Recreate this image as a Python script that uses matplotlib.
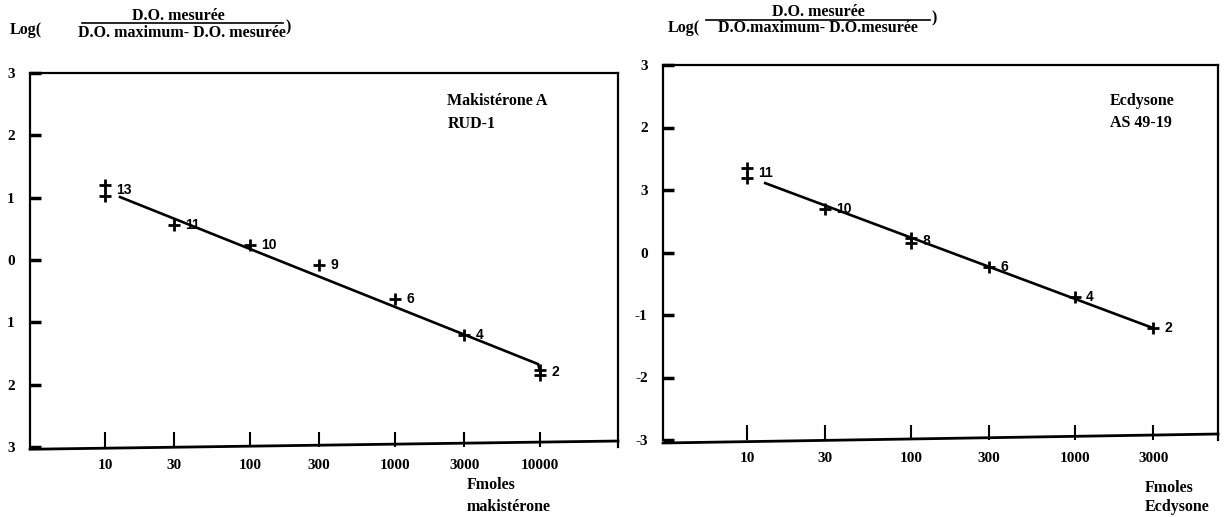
import matplotlib
matplotlib.use("Agg")
import matplotlib.pyplot as plt
from matplotlib.lines import Line2D

# ---------------- data ----------------
left_x = [10, 10, 30, 100, 300, 1000, 3000, 10000, 10000]
left_y = [1.20, 1.03, 0.56, 0.24, -0.08, -0.63, -1.20, -1.76, -1.85]
left_fit_x = [12.7, 9700, 10000]
left_fit_y = [1.01, -1.67, -1.77]
left_lbl_x = [10, 30, 100, 300, 1000, 3000, 10000]
left_lbl_y = [1.12, 0.56, 0.24, -0.08, -0.63, -1.20, -1.80]
left_lbl = ["13", "11", "10", "9", "6", "4", "2"]
left_xticks = [10, 30, 100, 300, 1000, 3000, 10000]
left_xticklabels = ["10", "30", "100", "300", "1000", "3000", "10000"]
left_yticks = [3, 2, 1, 0, -1, -2, -3]
left_yticklabels = ["3", "2", "1", "0", "1", "2", "3"]

right_x = [10, 10, 30, 100, 100, 300, 1000, 3000]
right_y = [1.35, 1.19, 0.70, 0.23, 0.15, -0.23, -0.71, -1.21]
right_fit_x = [12.9, 3000]
right_fit_y = [1.11, -1.21]
right_lbl_x = [10, 30, 100, 300, 1000, 3000]
right_lbl_y = [1.27, 0.70, 0.19, -0.23, -0.71, -1.21]
right_lbl = ["11", "10", "8", "6", "4", "2"]
right_xticks = [10, 30, 100, 300, 1000, 3000]
right_xticklabels = ["10", "30", "100", "300", "1000", "3000"]
right_yticks = [3, 2, 1, 0, -1, -2, -3]
right_yticklabels = ["3", "2", "3", "0", "-1", "-2", "-3"]

W, H = 1227, 517
SERIF = "Liberation Serif"

fig = plt.figure(figsize=(W / 100, H / 100), dpi=100)
fig.patch.set_facecolor("white")


def frac(x, y):
    return x / W, 1 - y / H


def make_axes(l, t, r, b):
    return fig.add_axes([l / W, 1 - b / H, (r - l) / W, (b - t) / H])


def style(ax, xlim, xticks, xtl, yticks, ytl, slant):
    ax.set_xscale("log")
    ax.set_xlim(*xlim)
    ax.set_ylim(-3, 3)
    ax.set_xticks(xticks)
    ax.set_xticklabels(xtl)
    ax.xaxis.set_minor_locator(matplotlib.ticker.NullLocator())
    ax.set_yticks(yticks)
    ax.set_yticklabels(ytl)
    ax.tick_params(axis="x", direction="in", length=11, width=1.5, pad=8.5,
                   labelsize=11)
    ax.tick_params(axis="y", direction="in", length=8, width=2.5, pad=11,
                   labelsize=11)
    for lab in ax.get_xticklabels() + ax.get_yticklabels():
        lab.set_fontfamily(SERIF)
        lab.set_fontweight("bold")
    for s in ax.spines.values():
        s.set_linewidth(1.6)
    ax.spines["bottom"].set_visible(False)
    ax.add_line(Line2D([0, 1], slant, transform=ax.transAxes, color="black",
                       lw=2.0, clip_on=False))


# ---------------- left panel ----------------
axL = make_axes(30, 73, 618, 447)
style(axL, (3.04, 34500), left_xticks, left_xticklabels, left_yticks,
      left_yticklabels, [-0.006, 0.016])
axL.plot(left_fit_x, left_fit_y, color="black", lw=1.9)
axL.plot(left_x, left_y, linestyle="none", marker="+", ms=9, mew=2.0,
         color="black")
for x, y, t in zip(left_lbl_x, left_lbl_y, left_lbl):
    axL.annotate(t, (x, y), xytext=(8, 0), textcoords="offset points",
                 ha="left", va="center", fontsize=10, fontweight="bold",
                 family="Liberation Sans")
axL.text(0.71, 0.895, "Makistérone A\nRUD-1", transform=axL.transAxes,
         ha="left", va="center", family=SERIF, fontweight="bold",
         fontsize=11.5, linespacing=1.55)

# ---------------- right panel ----------------
axR = make_axes(663, 65, 1218, 440)
style(axR, (3.07, 7450), right_xticks, right_xticklabels, right_yticks,
      right_yticklabels, [-0.008, 0.016])
axR.plot(right_fit_x, right_fit_y, color="black", lw=1.9)
axR.plot(right_x, right_y, linestyle="none", marker="+", ms=9, mew=2.0,
         color="black")
for x, y, t in zip(right_lbl_x, right_lbl_y, right_lbl):
    axR.annotate(t, (x, y), xytext=(8, 0), textcoords="offset points",
                 ha="left", va="center", fontsize=10, fontweight="bold",
                 family="Liberation Sans")
axR.text(0.805, 0.875, "Ecdysone\nAS 49-19", transform=axR.transAxes,
         ha="left", va="center", family=SERIF, fontweight="bold",
         fontsize=11.5, linespacing=1.55)

# ---------------- y-axis titles (fractions) ----------------
tk = dict(family=SERIF, fontweight="bold", fontsize=11.5)

fig.text(*frac(10, 30), "Log(", ha="left", va="center", **tk)
fig.text(*frac(178, 16), "D.O. mesurée", ha="center", va="center", **tk)
fig.add_artist(Line2D([82 / W, 283 / W], [1 - 23 / H, 1 - 23 / H],
                      color="black", lw=1.2))
fig.text(*frac(182, 33), "D.O. maximum- D.O. mesurée", ha="center",
         va="center", **tk)
fig.text(*frac(286, 27), ")", ha="left", va="center", **tk)

fig.text(*frac(668, 28), "Log(", ha="left", va="center", **tk)
fig.text(*frac(818, 12), "D.O. mesurée", ha="center", va="center", **tk)
fig.add_artist(Line2D([706 / W, 930 / W], [1 - 20 / H, 1 - 20 / H],
                      color="black", lw=1.2))
fig.text(*frac(818, 28), "D.O.maximum- D.O.mesurée", ha="center",
         va="center", **tk)
fig.text(*frac(931, 18), ")", ha="left", va="center", **tk)

# ---------------- x-axis titles ----------------
fig.text(*frac(467, 485), "Fmoles", ha="left", va="center", **tk)
fig.text(*frac(467, 507), "makistérone", ha="left", va="center", **tk)
fig.text(*frac(1145, 488), "Fmoles", ha="left", va="center", **tk)
fig.text(*frac(1145, 507), "Ecdysone", ha="left", va="center", **tk)

fig.savefig("out.png", dpi=100, facecolor="white")
